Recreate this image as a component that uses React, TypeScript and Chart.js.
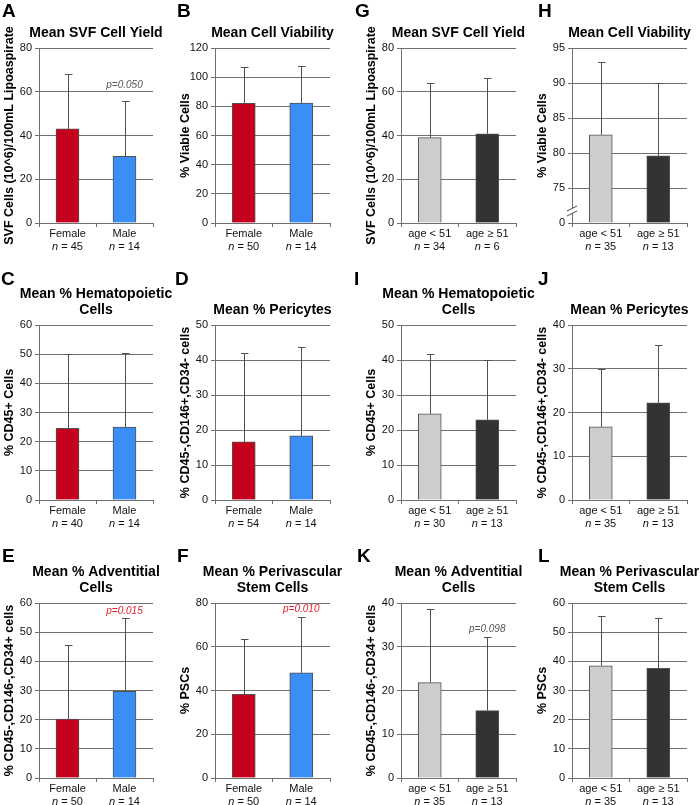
import React, { useEffect, useRef } from 'react';
import { Chart, registerables } from 'chart.js';
Chart.register(...registerables);

// ---------- DATA ----------
const sexCategories = ['Female', 'Male'];
const ageCategories = ['age < 51', 'age \u2265 51'];

const meanA = [43, 30.5];   const errA = [68, 56];     const nA = [45, 14];
const meanB = [82, 82.3];   const errB = [107, 107.5]; const nB = [50, 14];
const meanC = [24.6, 25];   const errC = [50, 50.5];   const nC = [40, 14];
const meanD = [16.6, 18.3]; const errD = [42, 43.8];   const nD = [54, 14];
const meanE = [20.2, 29.7]; const errE = [45.7, 55];   const nE = [50, 14];
const meanF = [38.2, 48.1]; const errF = [63.5, 73.4]; const nF = [50, 14];
const meanG = [39, 40.8];   const errG = [64.2, 66.2]; const nG = [34, 6];
const meanH = [82.6, 79.6]; const errH = [93, 90];     const nH = [35, 13];
const meanI = [24.6, 22.9]; const errI = [41.6, 40];   const nI = [30, 13];
const meanJ = [16.7, 22.2]; const errJ = [30, 35.4];   const nJ = [35, 13];
const meanK = [21.8, 15.4]; const errK = [38.6, 32.3]; const nK = [35, 13];
const meanL = [38.5, 37.6]; const errL = [55.6, 54.8]; const nL = [35, 13];

const titleYield = ['Mean SVF Cell Yield'];
const titleViability = ['Mean Cell Viability'];
const titleHemato = ['Mean % Hematopoietic', 'Cells'];
const titlePeri = ['Mean % Pericytes'];
const titleAdv = ['Mean % Adventitial', 'Cells'];
const titlePSC = ['Mean % Perivascular', 'Stem Cells'];

const yTitleYield = 'SVF Cells (10^6)/100mL Lipoaspirate';
const yTitleViability = '% Viable Cells';
const yTitleCD45 = '% CD45+ Cells';
const yTitlePeri = '% CD45-,CD146+,CD34- cells';
const yTitleAdv = '% CD45-,CD146-,CD34+ cells';
const yTitlePSC = '% PSCs';

// y ranges [min, max, step]
const rangeA = [0, 80, 20];
const rangeB = [0, 120, 20];
const rangeC = [0, 60, 10];
const rangeD = [0, 50, 10];
const rangeE = [0, 60, 10];
const rangeF = [0, 80, 20];
const rangeG = [0, 80, 20];
const rangeH = [70, 95, 5]; // broken axis, bottom labelled 0
const rangeI = [0, 50, 10];
const rangeJ = [0, 40, 10];
const rangeK = [0, 40, 10];
const rangeL = [0, 60, 10];

const pA = 'p=0.050';
const pE = 'p=0.015';
const pF = 'p=0.010';
const pK = 'p=0.098';

// ---------- STYLE / LAYOUT ----------
const FONT = "'Liberation Sans', Arial, Helvetica, sans-serif";
const RED = '#c4001d';
const BLUE = '#3a8ef5';
const LIGHT = '#cdcdcd';
const DARK = '#333333';
const GRID = '#6f6f6f';

const colLeft = [0, 175, 350, 525];
const axisL = [39, 215, 401, 572];
const axisR = [153, 330, 516, 687];
const rowTop = [0, 266, 531];
const rowH = [266, 265, 274];
const plotT = [48, 325, 603];
const plotB = [223, 500, 778];
const letterY = [17, 285, 562];
const letterX = [[2, 177, 355, 538], [1, 175, 354, 538], [2, 177, 357, 538]];

type Panel = {
  letter: string; r: number; c: number;
  cats: string[]; mean: number[]; err: number[]; n: number[];
  colors: string[]; title: string[]; yTitle: string; range: number[];
  p?: string; pColor?: string; pAt?: number; broken?: boolean;
};

const sexColors = [RED, BLUE];
const ageColors = [LIGHT, DARK];

const panels: Panel[] = [
  { letter: 'A', r: 0, c: 0, cats: sexCategories, mean: meanA, err: errA, n: nA, colors: sexColors, title: titleYield, yTitle: yTitleYield, range: rangeA, p: pA, pColor: '#555', pAt: 61.5 },
  { letter: 'B', r: 0, c: 1, cats: sexCategories, mean: meanB, err: errB, n: nB, colors: sexColors, title: titleViability, yTitle: yTitleViability, range: rangeB },
  { letter: 'G', r: 0, c: 2, cats: ageCategories, mean: meanG, err: errG, n: nG, colors: ageColors, title: titleYield, yTitle: yTitleYield, range: rangeG },
  { letter: 'H', r: 0, c: 3, cats: ageCategories, mean: meanH, err: errH, n: nH, colors: ageColors, title: titleViability, yTitle: yTitleViability, range: rangeH, broken: true },
  { letter: 'C', r: 1, c: 0, cats: sexCategories, mean: meanC, err: errC, n: nC, colors: sexColors, title: titleHemato, yTitle: yTitleCD45, range: rangeC },
  { letter: 'D', r: 1, c: 1, cats: sexCategories, mean: meanD, err: errD, n: nD, colors: sexColors, title: titlePeri, yTitle: yTitlePeri, range: rangeD },
  { letter: 'I', r: 1, c: 2, cats: ageCategories, mean: meanI, err: errI, n: nI, colors: ageColors, title: titleHemato, yTitle: yTitleCD45, range: rangeI },
  { letter: 'J', r: 1, c: 3, cats: ageCategories, mean: meanJ, err: errJ, n: nJ, colors: ageColors, title: titlePeri, yTitle: yTitlePeri, range: rangeJ },
  { letter: 'E', r: 2, c: 0, cats: sexCategories, mean: meanE, err: errE, n: nE, colors: sexColors, title: titleAdv, yTitle: yTitleAdv, range: rangeE, p: pE, pColor: '#e5202b', pAt: 56.2 },
  { letter: 'F', r: 2, c: 1, cats: sexCategories, mean: meanF, err: errF, n: nF, colors: sexColors, title: titlePSC, yTitle: yTitlePSC, range: rangeF, p: pF, pColor: '#e5202b', pAt: 75.9 },
  { letter: 'K', r: 2, c: 2, cats: ageCategories, mean: meanK, err: errK, n: nK, colors: ageColors, title: titleAdv, yTitle: yTitleAdv, range: rangeK, p: pK, pColor: '#555', pAt: 33.4 },
  { letter: 'L', r: 2, c: 3, cats: ageCategories, mean: meanL, err: errL, n: nL, colors: ageColors, title: titlePSC, yTitle: yTitlePSC, range: rangeL },
];

function canvasBox(p: Panel) {
  const cx = colLeft[p.c];
  const cy = rowTop[p.r];
  const cw = p.c === 3 ? 700 - cx : 200;
  const ch = rowH[p.r];
  return { cx, cy, cw, ch };
}

function makeOverlay(p: Panel, cx: number, cy: number) {
  return {
    id: 'overlay' + p.letter,
    afterDatasetsDraw(chart: any) {
      const ctx = chart.ctx as CanvasRenderingContext2D;
      const { left, right, top, bottom } = chart.chartArea;
      const xs = chart.scales.x;
      const ys = chart.scales.y;
      ctx.save();
      // error bars (upper only)
      ctx.strokeStyle = '#505050';
      ctx.lineWidth = 1;
      p.err.forEach((e, i) => {
        const x = Math.round(xs.getPixelForValue(i)) + 0.5;
        const y0 = ys.getPixelForValue(p.mean[i]);
        const y1 = Math.round(ys.getPixelForValue(e)) + 0.5;
        ctx.beginPath();
        ctx.moveTo(x, y0);
        ctx.lineTo(x, y1);
        ctx.moveTo(x - 3.5, y1);
        ctx.lineTo(x + 4, y1);
        ctx.stroke();
      });
      // broken axis marks
      if (p.broken) {
        const yb = plotB[p.r] - cy - 13;
        ctx.fillStyle = '#fff';
        ctx.fillRect(left - 1, yb - 2, 3, 5);
        ctx.strokeStyle = '#444';
        ctx.beginPath();
        ctx.moveTo(left - 5, yb + 1); ctx.lineTo(left + 5, yb - 4);
        ctx.moveTo(left - 5, yb + 6); ctx.lineTo(left + 5, yb + 1);
        ctx.stroke();
      }
      // panel letter
      ctx.fillStyle = '#000';
      ctx.font = `bold 19px ${FONT}`;
      ctx.textAlign = 'left';
      ctx.textBaseline = 'alphabetic';
      ctx.fillText(p.letter, letterX[p.r][p.c] - cx, letterY[p.r] - cy);
      // title
      ctx.font = `bold 14px ${FONT}`;
      ctx.textAlign = 'center';
      const tcx = (left + right) / 2;
      const nl = p.title.length;
      p.title.forEach((t, i) => {
        ctx.fillText(t, tcx, top - 11 - (nl - 1 - i) * 16);
      });
      // y title
      ctx.save();
      ctx.font = `bold 12.5px ${FONT}`;
      ctx.translate(left - 29, (top + bottom) / 2);
      ctx.rotate(-Math.PI / 2);
      ctx.textBaseline = 'middle';
      ctx.textAlign = 'center';
      ctx.fillText(p.yTitle, 0, 0);
      ctx.restore();
      // category labels
      ctx.fillStyle = '#111';
      p.cats.forEach((cat, i) => {
        const x = xs.getPixelForValue(i);
        ctx.font = `11px ${FONT}`;
        ctx.textAlign = 'center';
        ctx.fillText(cat, x, bottom + 14);
        const rest = ' = ' + p.n[i];
        ctx.font = `italic 11px ${FONT}`;
        const wn = ctx.measureText('n').width;
        ctx.font = `11px ${FONT}`;
        const wr = ctx.measureText(rest).width;
        const sx = x - (wn + wr) / 2;
        ctx.textAlign = 'left';
        ctx.font = `italic 11px ${FONT}`;
        ctx.fillText('n', sx, bottom + 27);
        ctx.font = `11px ${FONT}`;
        ctx.fillText(rest, sx + wn, bottom + 27);
      });
      // p value
      if (p.p) {
        const x = xs.getPixelForValue(1);
        const y = ys.getPixelForValue(p.pAt ?? p.err[1]);
        ctx.fillStyle = p.pColor || '#555';
        ctx.font = `italic 10px ${FONT}`;
        ctx.textAlign = 'center';
        ctx.fillText(p.p, x, y);
      }
      ctx.restore();
    },
  };
}

function PanelChart({ p }: { p: Panel }) {
  const ref = useRef<HTMLCanvasElement>(null);
  const { cx, cy, cw, ch } = canvasBox(p);
  useEffect(() => {
    if (!ref.current) return;
    const L = axisL[p.c], R = axisR[p.c], T = plotT[p.r], B = plotB[p.r];
    const [mn, mx, st] = p.range;
    const chart = new Chart(ref.current, {
      type: 'bar',
      data: {
        labels: p.cats,
        datasets: [{
          data: p.mean,
          backgroundColor: p.colors,
          borderColor: '#505050',
          borderWidth: 1,
          barThickness: 23,
          base: mn,
        } as any],
      },
      options: {
        responsive: false,
        animation: false,
        devicePixelRatio: 1,
        layout: { padding: { top: T - cy, right: cx + cw - R, left: 0, bottom: 0 } },
        plugins: { legend: { display: false }, tooltip: { enabled: false }, title: { display: false } },
        scales: {
          x: {
            offset: true,
            ticks: { display: false },
            grid: { display: true, drawOnChartArea: false, drawTicks: true, tickLength: 4, color: GRID, offset: true },
            border: { display: true, color: GRID },
            afterFit: (s: any) => { s.height = cy + ch - B; },
          },
          y: {
            min: mn, max: mx,
            ticks: {
              stepSize: st,
              color: '#111',
              font: { family: FONT, size: 11 },
              padding: 3,
              callback: (v: any) => (p.broken && v === mn ? '0' : String(v)),
            },
            grid: { color: GRID, tickLength: 4, drawTicks: true },
            border: { display: true, color: GRID },
            afterFit: (s: any) => { s.width = L - cx; },
          },
        },
      },
      plugins: [makeOverlay(p, cx, cy)],
    } as any);
    return () => chart.destroy();
  }, []);
  return (
    <canvas
      ref={ref}
      width={cw}
      height={ch}
      style={{ position: 'absolute', left: cx, top: cy, width: cw, height: ch }}
    />
  );
}

export default function App() {
  return (
    <div style={{ position: 'absolute', left: 0, top: 0, width: 700, height: 805, background: '#fff', overflow: 'hidden' }}>
      {panels.map((p) => (
        <PanelChart key={p.letter} p={p} />
      ))}
    </div>
  );
}
